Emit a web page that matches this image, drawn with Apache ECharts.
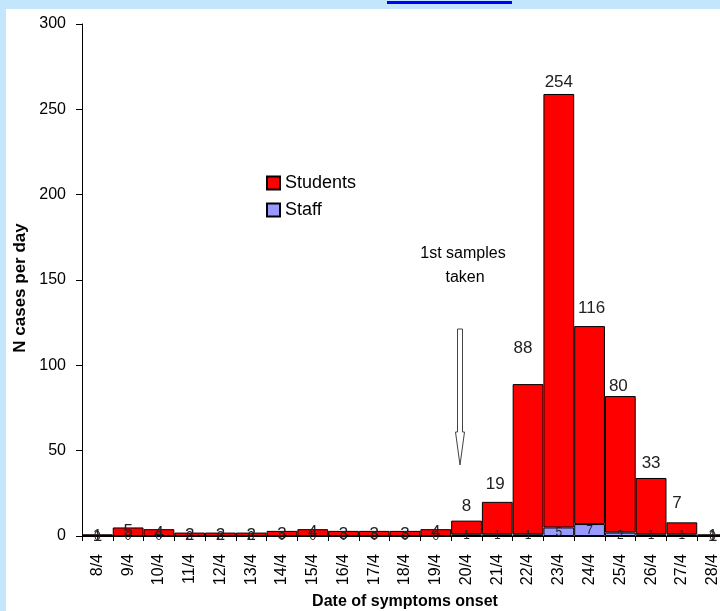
<!DOCTYPE html>
<html>
<head>
<meta charset="utf-8">
<script src="https://cdn.jsdelivr.net/npm/echarts@6/dist/echarts.min.js"></script>
<style>
  html, body { margin: 0; padding: 0; overflow: hidden; background: #ffffff; }
  #chart { position: absolute; left: 0; top: 0; width: 728px; height: 611px; }
</style>
</head>
<body>
<div id="chart"></div>
<script>
// Daily onset dates (April)
const days = ['8/4','9/4','10/4','11/4','12/4','13/4','14/4','15/4','16/4','17/4','18/4',
              '19/4','20/4','21/4','22/4','23/4','24/4','25/4','26/4','27/4','28/4'];
// Cases per day
const students = [1, 5, 4, 2, 2, 2, 3, 4, 3, 3, 3, 4, 8, 19, 88, 254, 116, 80, 33, 7, 1];
const staff    = [0, 0, 0, 0, 0, 0, 0, 0, 0, 0, 0, 0, 1, 1, 1, 5, 7, 2, 1, 1, 0];
const yTicks = { min: 0, max: 300, step: 50 };

// Nudges for the student value labels, [dx, dy] from the default 'top' spot
const studentLabelShift = [
  [0,16],[0,17],[0,18],[0,16],[0,16],[0,16],[0,17],[0,17],[0,17],[0,17],[0,17],
  [0,17],[0,-1],[-2,-4],[-5,-22],[0,2],[2,-4],[-2,4],[0,-1],[-5,-6],[0,16]
];

const FONT = "'Liberation Sans', Arial, sans-serif";
const chart = echarts.init(document.getElementById('chart'), null, { renderer: 'canvas' });

chart.setOption({
  backgroundColor: '#ffffff',
  animation: false,
  textStyle: { fontFamily: FONT },
  legend: {
    data: ['Students', 'Staff'],
    orient: 'vertical',
    left: 261,
    top: 168,
    itemWidth: 13,
    itemHeight: 13,
    itemGap: 7,
    icon: 'rect',
    textStyle: { fontSize: 18, color: '#000', fontFamily: FONT, lineHeight: 20 }
  },
  grid: { left: 82, right: 0, top: 24, bottom: 75, containLabel: false, outerBoundsMode: 'none' },
  xAxis: {
    type: 'category',
    data: days,
    boundaryGap: true,
    name: 'Date of symptoms onset',
    nameLocation: 'middle',
    nameGap: 58,
    nameTextStyle: { fontSize: 16, fontWeight: 'bold', color: '#000', fontFamily: FONT },
    axisLine: { lineStyle: { color: '#000', width: 1 } },
    axisTick: { show: true, interval: 0, length: 5, lineStyle: { color: '#000' } },
    axisLabel: { interval: 0, rotate: 90, fontSize: 16, color: '#000', margin: 18, fontFamily: FONT }
  },
  yAxis: {
    type: 'value',
    min: yTicks.min,
    max: yTicks.max,
    interval: yTicks.step,
    name: 'N cases per day',
    nameLocation: 'middle',
    nameRotate: 90,
    nameGap: 53,
    nameTextStyle: { fontSize: 17, fontWeight: 'bold', color: '#000', fontFamily: FONT, padding: [0, 16, 0, 0] },
    axisLine: { show: true, lineStyle: { color: '#000', width: 1 } },
    axisTick: { show: true, length: 6, lineStyle: { color: '#000' } },
    axisLabel: { fontSize: 16, color: '#000', margin: 16, fontFamily: FONT },
    splitLine: { show: false }
  },
  series: [
    {
      name: 'Staff',
      type: 'bar',
      stack: 'cases',
      barCategoryGap: '0%',
      data: staff,
      itemStyle: { color: '#9999ff', borderColor: '#000', borderWidth: 1 },
      label: {
        show: true,
        position: 'inside',
        offset: [0, 1],
        fontSize: 12,
        color: '#222',
        textBorderWidth: 0,
        fontFamily: FONT
      },
      z: 3
    },
    {
      name: 'Students',
      type: 'bar',
      stack: 'cases',
      barCategoryGap: '0%',
      data: students.map((v, i) => ({
        value: v,
        label: { offset: studentLabelShift[i] }
      })),
      itemStyle: { color: '#ff0000', borderColor: '#000', borderWidth: 1 },
      label: {
        show: true,
        position: 'top',
        distance: 5,
        fontSize: 17,
        color: '#222',
        fontFamily: FONT
      },
      z: 2
    }
  ],
  graphic: [
    // light blue page frame along the top and left edges
    { type: 'rect', left: 0, top: 0, shape: { width: 728, height: 9 }, style: { fill: '#c4e6fc' }, z: 100, silent: true },
    { type: 'rect', left: 0, top: 0, shape: { width: 6, height: 611 }, style: { fill: '#c4e6fc' }, z: 100, silent: true },
    { type: 'rect', left: 387, top: 1, shape: { width: 125, height: 3 }, style: { fill: '#0000ff' }, z: 101, silent: true },
    // annotation: first samples taken
    {
      type: 'text', x: 463, y: 254, z: 50,
      style: { text: '1st samples', fontSize: 16, fill: '#000', align: 'center', verticalAlign: 'middle', fontFamily: FONT }
    },
    {
      type: 'text', x: 465, y: 278, z: 50,
      style: { text: 'taken', fontSize: 16, fill: '#000', align: 'center', verticalAlign: 'middle', fontFamily: FONT }
    },
    {
      type: 'polygon', z: 50,
      shape: { points: [[457.5,329],[462.5,329],[462.5,432],[464.5,432],[460,465],[455.5,432],[457.5,432]] },
      style: { fill: '#ffffff', stroke: '#444', lineWidth: 1 }
    }
  ]
});
</script>
</body>
</html>
